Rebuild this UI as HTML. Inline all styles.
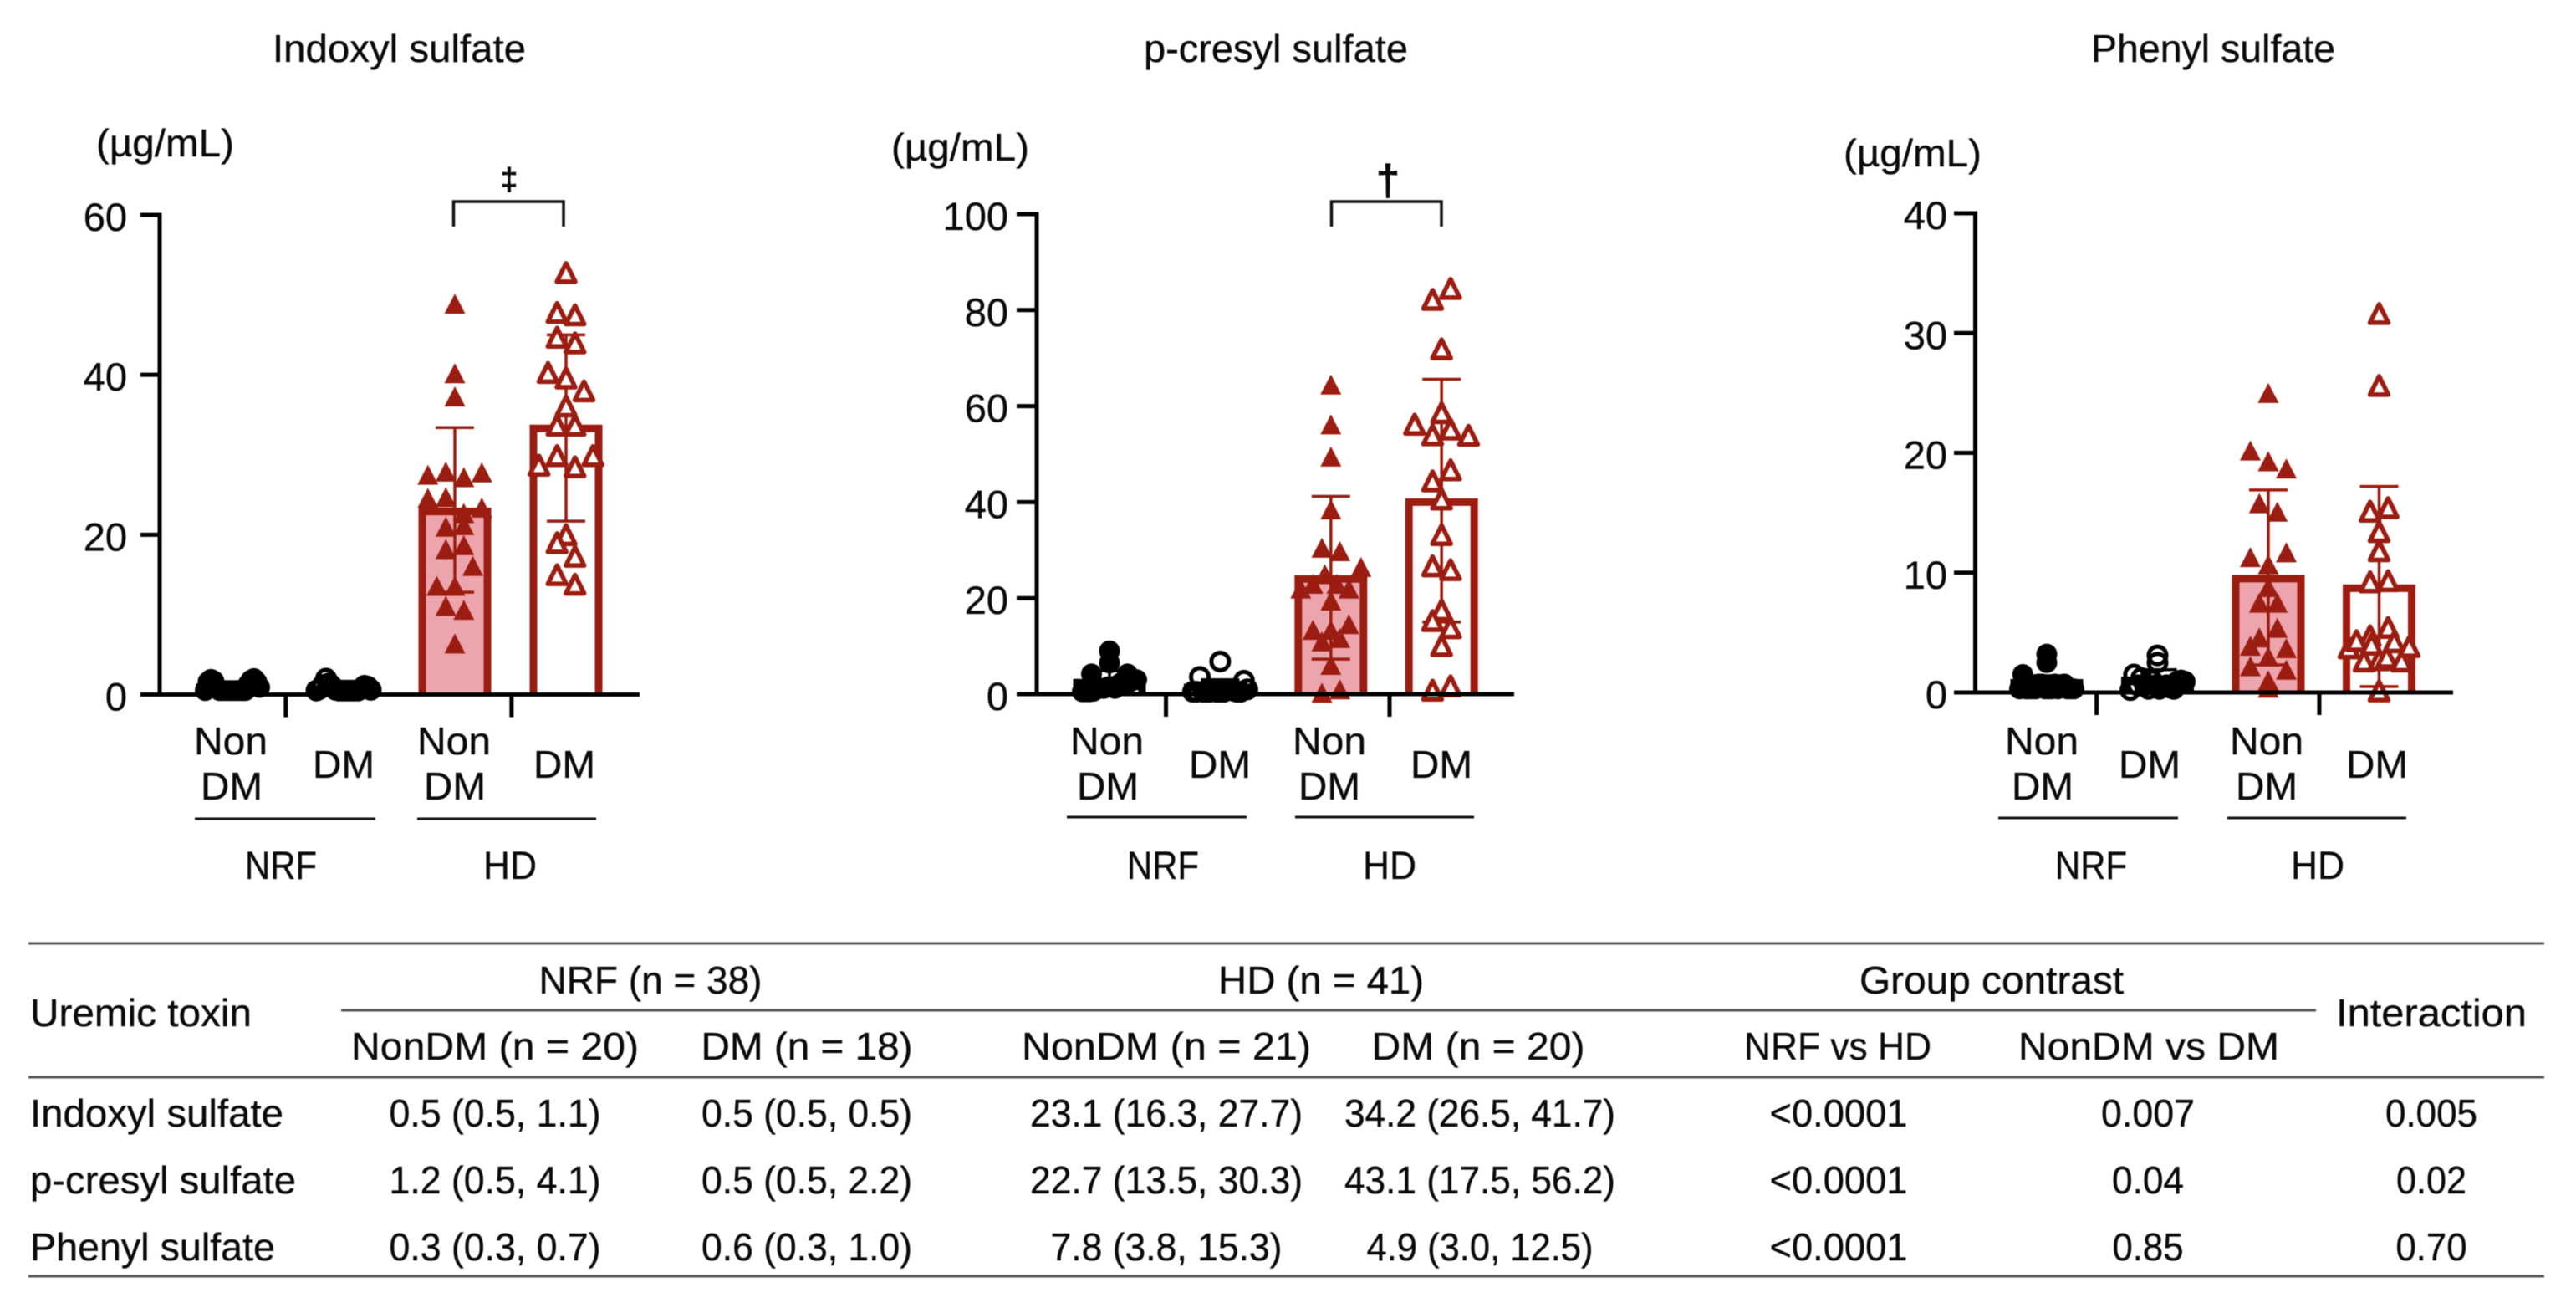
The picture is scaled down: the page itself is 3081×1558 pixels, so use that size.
<!DOCTYPE html>
<html lang="en">
<head>
<meta charset="utf-8">
<title>Uremic toxin levels in NRF and HD patients</title>
<style>
  html, body { margin: 0; padding: 0; background: #fff; width: 3081px; height: 1558px; overflow: hidden; }
  svg { display: block; filter: blur(0.6px); }
  text { font-family: "Liberation Sans", "DejaVu Sans", sans-serif; font-size: 46px; fill: #0a0a0a; stroke: #0a0a0a; stroke-width: 0.35px; }
  .c { text-anchor: middle; }
</style>
</head>
<body>
<svg id="figure" xmlns="http://www.w3.org/2000/svg" width="3081" height="1558" viewBox="0 0 3081 1558">
  <rect x="0" y="0" width="3081" height="1558" fill="#fff"/>

  <g id="chart-indoxyl">
    <text x="326" y="74" textLength="303" lengthAdjust="spacingAndGlyphs">Indoxyl sulfate</text>
    <text x="115" y="187" textLength="165" lengthAdjust="spacingAndGlyphs">(µg/mL)</text>
    <text class="c" x="276" y="902" textLength="88" lengthAdjust="spacingAndGlyphs">Non</text>
    <text class="c" x="277" y="956" textLength="74" lengthAdjust="spacingAndGlyphs">DM</text>
    <text class="c" x="411" y="930" textLength="74" lengthAdjust="spacingAndGlyphs">DM</text>
    <text class="c" x="543" y="902" textLength="88" lengthAdjust="spacingAndGlyphs">Non</text>
    <text class="c" x="544" y="956" textLength="74" lengthAdjust="spacingAndGlyphs">DM</text>
    <text class="c" x="675" y="930" textLength="74" lengthAdjust="spacingAndGlyphs">DM</text>
    <line x1="233" x2="449" y1="979" y2="979" stroke="#111" stroke-width="3"/>
    <line x1="499" x2="713" y1="979" y2="979" stroke="#111" stroke-width="3"/>
    <text class="c" x="336" y="1051" textLength="86" lengthAdjust="spacingAndGlyphs" style="font-size:47px">NRF</text>
    <text class="c" x="610" y="1051" textLength="64" lengthAdjust="spacingAndGlyphs" style="font-size:47px">HD</text>
    <path d="M542.500 271V241H674V271" fill="none" stroke="#111" stroke-width="3.500"/>
    <text class="c" x="609" y="227" style="font-size:38px;font-weight:bold">‡</text>
  </g>

  <g id="chart-cresyl">
    <text x="1368" y="74" textLength="316" lengthAdjust="spacingAndGlyphs">p-cresyl sulfate</text>
    <text x="1066" y="192" textLength="165" lengthAdjust="spacingAndGlyphs">(µg/mL)</text>
    <text class="c" x="1324" y="902" textLength="88" lengthAdjust="spacingAndGlyphs">Non</text>
    <text class="c" x="1325" y="956" textLength="74" lengthAdjust="spacingAndGlyphs">DM</text>
    <text class="c" x="1459" y="930" textLength="74" lengthAdjust="spacingAndGlyphs">DM</text>
    <text class="c" x="1590" y="902" textLength="88" lengthAdjust="spacingAndGlyphs">Non</text>
    <text class="c" x="1590" y="956" textLength="74" lengthAdjust="spacingAndGlyphs">DM</text>
    <text class="c" x="1724" y="930" textLength="74" lengthAdjust="spacingAndGlyphs">DM</text>
    <line x1="1276" x2="1491" y1="977" y2="977" stroke="#111" stroke-width="3"/>
    <line x1="1549" x2="1763" y1="977" y2="977" stroke="#111" stroke-width="3"/>
    <text class="c" x="1391" y="1051" textLength="86" lengthAdjust="spacingAndGlyphs" style="font-size:47px">NRF</text>
    <text class="c" x="1662" y="1051" textLength="64" lengthAdjust="spacingAndGlyphs" style="font-size:47px">HD</text>
    <path d="M1592.500 271V241H1724V271" fill="none" stroke="#111" stroke-width="3.500"/>
    <text class="c" x="1660" y="233" style="font-size:52px;font-weight:bold">†</text>
  </g>

  <g id="chart-phenyl">
    <text x="2501" y="74" textLength="292" lengthAdjust="spacingAndGlyphs">Phenyl sulfate</text>
    <text x="2205" y="199" textLength="165" lengthAdjust="spacingAndGlyphs">(µg/mL)</text>
    <text class="c" x="2442" y="902" textLength="88" lengthAdjust="spacingAndGlyphs">Non</text>
    <text class="c" x="2443" y="956" textLength="74" lengthAdjust="spacingAndGlyphs">DM</text>
    <text class="c" x="2571" y="930" textLength="74" lengthAdjust="spacingAndGlyphs">DM</text>
    <text class="c" x="2711" y="902" textLength="88" lengthAdjust="spacingAndGlyphs">Non</text>
    <text class="c" x="2711" y="956" textLength="74" lengthAdjust="spacingAndGlyphs">DM</text>
    <text class="c" x="2843" y="930" textLength="74" lengthAdjust="spacingAndGlyphs">DM</text>
    <line x1="2390" x2="2605" y1="978" y2="978" stroke="#111" stroke-width="3"/>
    <line x1="2664" x2="2878" y1="978" y2="978" stroke="#111" stroke-width="3"/>
    <text class="c" x="2501" y="1051" textLength="86" lengthAdjust="spacingAndGlyphs" style="font-size:47px">NRF</text>
    <text class="c" x="2772" y="1051" textLength="64" lengthAdjust="spacingAndGlyphs" style="font-size:47px">HD</text>
  </g>

  <g id="results-table">
    <line x1="34" x2="3043" y1="1128" y2="1128" stroke="#555" stroke-width="3"/>
    <line x1="408" x2="2770" y1="1208" y2="1208" stroke="#555" stroke-width="3"/>
    <line x1="34" x2="3043" y1="1288" y2="1288" stroke="#555" stroke-width="3"/>
    <line x1="34" x2="3043" y1="1526" y2="1526" stroke="#555" stroke-width="3"/>

    <text x="36" y="1227" textLength="265" lengthAdjust="spacingAndGlyphs">Uremic toxin</text>
    <text class="c" x="778" y="1188" textLength="267" lengthAdjust="spacingAndGlyphs">NRF (n = 38)</text>
    <text class="c" x="1580" y="1188" textLength="246" lengthAdjust="spacingAndGlyphs">HD (n = 41)</text>
    <text class="c" x="2382" y="1188" textLength="316" lengthAdjust="spacingAndGlyphs">Group contrast</text>
    <text class="c" x="2908" y="1227" textLength="228" lengthAdjust="spacingAndGlyphs">Interaction</text>
    <text class="c" x="592" y="1267" textLength="344" lengthAdjust="spacingAndGlyphs">NonDM (n = 20)</text>
    <text class="c" x="965" y="1267" textLength="253" lengthAdjust="spacingAndGlyphs">DM (n = 18)</text>
    <text class="c" x="1395" y="1267" textLength="346" lengthAdjust="spacingAndGlyphs">NonDM (n = 21)</text>
    <text class="c" x="1768" y="1267" textLength="255" lengthAdjust="spacingAndGlyphs">DM (n = 20)</text>
    <text class="c" x="2198" y="1267" textLength="224" lengthAdjust="spacingAndGlyphs">NRF vs HD</text>
    <text class="c" x="2570" y="1267" textLength="312" lengthAdjust="spacingAndGlyphs">NonDM vs DM</text>

    <text x="36" y="1347" textLength="303" lengthAdjust="spacingAndGlyphs">Indoxyl sulfate</text>
    <text class="c" x="592" y="1347" textLength="253" lengthAdjust="spacingAndGlyphs">0.5 (0.5, 1.1)</text>
    <text class="c" x="965" y="1347" textLength="252" lengthAdjust="spacingAndGlyphs">0.5 (0.5, 0.5)</text>
    <text class="c" x="1395" y="1347" textLength="326" lengthAdjust="spacingAndGlyphs">23.1 (16.3, 27.7)</text>
    <text class="c" x="1770" y="1347" textLength="324" lengthAdjust="spacingAndGlyphs">34.2 (26.5, 41.7)</text>
    <text class="c" x="2199" y="1347" textLength="165" lengthAdjust="spacingAndGlyphs">&lt;0.0001</text>
    <text class="c" x="2569" y="1347" textLength="112" lengthAdjust="spacingAndGlyphs">0.007</text>
    <text class="c" x="2908" y="1347" textLength="110" lengthAdjust="spacingAndGlyphs">0.005</text>

    <text x="36" y="1427" textLength="318" lengthAdjust="spacingAndGlyphs">p-cresyl sulfate</text>
    <text class="c" x="592" y="1427" textLength="253" lengthAdjust="spacingAndGlyphs">1.2 (0.5, 4.1)</text>
    <text class="c" x="965" y="1427" textLength="252" lengthAdjust="spacingAndGlyphs">0.5 (0.5, 2.2)</text>
    <text class="c" x="1395" y="1427" textLength="326" lengthAdjust="spacingAndGlyphs">22.7 (13.5, 30.3)</text>
    <text class="c" x="1770" y="1427" textLength="324" lengthAdjust="spacingAndGlyphs">43.1 (17.5, 56.2)</text>
    <text class="c" x="2199" y="1427" textLength="165" lengthAdjust="spacingAndGlyphs">&lt;0.0001</text>
    <text class="c" x="2569" y="1427" textLength="86" lengthAdjust="spacingAndGlyphs">0.04</text>
    <text class="c" x="2908" y="1427" textLength="84" lengthAdjust="spacingAndGlyphs">0.02</text>

    <text x="36" y="1507" textLength="293" lengthAdjust="spacingAndGlyphs">Phenyl sulfate</text>
    <text class="c" x="592" y="1507" textLength="253" lengthAdjust="spacingAndGlyphs">0.3 (0.3, 0.7)</text>
    <text class="c" x="965" y="1507" textLength="252" lengthAdjust="spacingAndGlyphs">0.6 (0.3, 1.0)</text>
    <text class="c" x="1395" y="1507" textLength="277" lengthAdjust="spacingAndGlyphs">7.8 (3.8, 15.3)</text>
    <text class="c" x="1770" y="1507" textLength="271" lengthAdjust="spacingAndGlyphs">4.9 (3.0, 12.5)</text>
    <text class="c" x="2199" y="1507" textLength="165" lengthAdjust="spacingAndGlyphs">&lt;0.0001</text>
    <text class="c" x="2569" y="1507" textLength="85" lengthAdjust="spacingAndGlyphs">0.85</text>
    <text class="c" x="2908" y="1507" textLength="85" lengthAdjust="spacingAndGlyphs">0.70</text>
  </g>
</svg>

<script>
/* ---------- chart data (µg/mL) ---------- */
const categories = ['nrf-nondm', 'nrf-dm', 'hd-nondm', 'hd-dm'];

const indoxylTicks = [0, 20, 40, 60];
const indoxylMeans = [0.9, 0.7, 22.9, 33.3];
const indoxylErrLow = [0.3, 0.3, 12.8, 21.7];
const indoxylErrHigh = [1.5, 1.2, 33.4, 45.0];
const indoxylNrfNonDm = [0.5, 1.6, 1.9, 1.7, 0.9, 0.5, 0.5, 0.5, 0.5, 0.5, 0.5, 0.5, 0.5, 0.5, 0.5, 1.3, 1.8, 2.0, 1.6, 0.9];
const indoxylNrfDm = [0.5, 0.7, 1.2, 2.0, 1.4, 1.0, 0.6, 0.5, 0.5, 0.5, 0.5, 0.5, 0.5, 0.5, 0.7, 1.1, 1.0, 0.6];
const indoxylHdNonDm = [48.9, 40.2, 37.3, 27.5, 27.9, 27.2, 27.8, 24.6, 24.7, 22.7, 23.4, 21.0, 21.2, 18.2, 18.7, 13.6, 13.6, 16.1, 11.1, 10.6, 6.4];
const indoxylHdDm = [52.9, 47.9, 47.6, 44.8, 44.1, 40.4, 39.7, 38.1, 36.2, 33.8, 33.8, 28.8, 30.0, 28.6, 30.0, 20.1, 19.1, 17.4, 15.1, 13.9];

const cresylTicks = [0, 20, 40, 60, 80, 100];
const cresylMeans = [2.4, 1.4, 24.0, 40.0];
const cresylErrLow = [0.2, 0.2, 7.3, 15.0];
const cresylErrHigh = [4.9, 3.0, 41.2, 65.6];
const cresylNrfNonDm = [9.0, 4.2, 6.5, 4.2, 0.5, 0.5, 0.5, 0.6, 1.0, 1.2, 1.2, 1.5, 1.5, 1.2, 2.0, 2.5, 3.0, 2.5, 3.0, 3.0];
const cresylNrfDm = [6.8, 0.5, 0.5, 3.6, 0.5, 0.5, 0.5, 0.6, 0.5, 0.5, 0.5, 1.0, 1.0, 0.7, 0.5, 0.5, 2.8, 1.0];
const cresylHdNonDm = [64.5, 56.2, 49.5, 38.5, 30.5, 29.8, 22.0, 23.0, 25.0, 23.0, 22.0, 26.5, 19.5, 13.4, 13.4, 14.6, 11.0, 11.7, 6.1, 0.3, 1.0];
const cresylHdDm = [82.4, 84.7, 72.1, 58.8, 56.4, 54.2, 55.4, 54.1, 44.6, 46.9, 40.8, 33.4, 26.9, 26.1, 17.7, 15.5, 14.0, 10.3, 1.0, 1.9];

const phenylTicks = [0, 10, 20, 30, 40];
const phenylMeans = [0.8, 1.0, 9.5, 8.7];
const phenylErrLow = [0.2, 0.2, 2.3, 0.5];
const phenylErrHigh = [1.4, 1.9, 16.9, 17.2];
const phenylNrfNonDm = [3.2, 2.5, 0.3, 1.5, 0.3, 0.3, 0.3, 0.3, 0.7, 0.7, 0.3, 0.3, 0.3, 0.7, 0.3, 0.4, 0.7, 0.3, 0.3, 0.3];
const phenylNrfDm = [3.1, 2.5, 0.2, 1.5, 0.6, 1.2, 0.6, 0.3, 1.0, 0.6, 0.3, 0.5, 0.6, 0.4, 0.3, 0.9, 1.0, 0.9];
const phenylHdNonDm = [25.0, 20.2, 19.3, 18.7, 15.8, 15.1, 11.3, 10.7, 11.7, 8.8, 7.5, 7.5, 4.6, 5.4, 3.9, 3.0, 3.7, 2.2, 1.0, 1.9, 0.4];
const phenylHdDm = [31.7, 25.7, 15.2, 15.5, 13.5, 11.9, 9.3, 9.4, 4.8, 5.5, 3.8, 4.4, 2.7, 4.1, 2.8, 3.0, 4.3, 2.7, 3.9, 0.2];

/* ---------- drawing ---------- */
const NS = 'http://www.w3.org/2000/svg';
const RED = '#9b1c10';
const PINK = '#eda5ad';
const BLACK = '#000';

function svgEl(tag, parent, attrs) {
  const el = document.createElementNS(NS, tag);
  for (const k in attrs) el.setAttribute(k, attrs[k]);
  parent.appendChild(el);
  return el;
}

function yScale(frame, v) {
  return frame.y0 - (v / frame.max) * (frame.y0 - frame.yTop);
}
function xScale(frame, columnIndex) {
  return frame.col0 + columnIndex * frame.colStep;
}

/* Column-scatter layout: points sharing a marker-height bin spread symmetrically, in data order. */
function swarmOffsets(frame, values, isNrf) {
  const pxPerUnit = (frame.y0 - frame.yTop) / frame.max;
  const bin = (isNrf ? frame.nrfBinPx : frame.hdBinPx) / pxPerUnit;
  const anchor = isNrf ? 0 : frame.hdBinAnchor;
  const width = isNrf ? frame.nrfSwarmWidth : frame.hdSwarmWidth;
  const groups = {};
  values.forEach(function (v, i) {
    const key = Math.floor((v - anchor) / bin + 1e-6);
    (groups[key] = groups[key] || []).push(i);
  });
  const out = new Array(values.length).fill(0);
  Object.keys(groups).forEach(function (key) {
    const g = groups[key];
    const step = g.length > 1 ? Math.min(frame.slot, width / (g.length - 1)) : 0;
    g.forEach(function (idx, pos) {
      out[idx] = (pos - (g.length - 1) / 2) * step;
    });
  });
  return out;
}

function trianglePoints(cx, cy, w, h) {
  return [cx - w / 2, cy + h / 2, cx + w / 2, cy + h / 2, cx, cy - h / 2].join(' ');
}

function drawAxes(frame, g, ticks, prefix) {
  const yAxis = svgEl('line', g, { x1: frame.axisX, x2: frame.axisX, y1: frame.yTop - 2.5, y2: frame.y0, stroke: BLACK, 'stroke-width': 5 });
  
  
  const xAxis = svgEl('line', g, { x1: frame.tickLeft, x2: frame.right, y1: frame.y0, y2: frame.y0, stroke: BLACK, 'stroke-width': 5 });
  
  
  ticks.forEach(function (t) {
    const y = yScale(frame, t);
    const tick = svgEl('line', g, { x1: frame.tickLeft, x2: frame.axisX, y1: y, y2: y, stroke: BLACK, 'stroke-width': 5 });
    
    
    const label = svgEl('text', g, { x: frame.labelRight, y: y + 19, 'text-anchor': 'end', style: 'font-size:47px' });
    label.textContent = String(t);
    
    
  });
  frame.groupTicks.forEach(function (c) {
    const x = xScale(frame, c);
    const tick = svgEl('line', g, { x1: x, x2: x, y1: frame.y0, y2: frame.y0 + 27, stroke: BLACK, 'stroke-width': 5 });
    
    
  });
}

function drawColumn(frame, g, prefix, index, series) {
  const x = xScale(frame, index.col);
  const isNrf = index.col < 2;
  const color = isNrf ? BLACK : RED;
  const fill = index.col === 2 ? PINK : '#fff';
  const top = yScale(frame, series.mean);
  const bar = svgEl('path', g, { d: 'M' + (x - 39) + ' ' + frame.y0 + 'V' + top + 'H' + (x + 39) + 'V' + frame.y0, fill: fill, stroke: color, 'stroke-width': 9 });
  
  

  const yLow = yScale(frame, series.low);
  const yHigh = yScale(frame, series.high);
  const err = svgEl('path', g, {
    d: 'M' + x + ' ' + yLow + 'V' + yHigh + 'M' + (x - 23) + ' ' + yHigh + 'H' + (x + 23) + 'M' + (x - 23) + ' ' + yLow + 'H' + (x + 23),
    fill: 'none', stroke: color, 'stroke-width': 3.5
  });
  
  

  const offsets = swarmOffsets(frame, series.values, isNrf);
  series.values.forEach(function (v, i) {
    const cx = x + offsets[i];
    const cy = yScale(frame, v);
    let mark;
    if (index.col === 0) {
      mark = svgEl('circle', g, { cx: cx, cy: cy, r: 12.5, fill: BLACK });
    } else if (index.col === 1) {
      mark = svgEl('circle', g, { cx: cx, cy: cy, r: 10.5, fill: 'none', stroke: BLACK, 'stroke-width': 5 });
    } else if (index.col === 2) {
      mark = svgEl('polygon', g, { points: trianglePoints(cx, cy, 25, 24), fill: RED });
    } else {
      mark = svgEl('polygon', g, { points: trianglePoints(cx, cy + 1, 22, 22), fill: '#fff', stroke: RED, 'stroke-width': 5.5, 'stroke-linejoin': 'round' });
    }
    
    
  });
}

function drawPanel(groupId, prefix, frame, ticks, means, low, high, seriesList) {
  const parent = document.getElementById(groupId);
  const g = svgEl('g', parent, {});
  
  
  seriesList.forEach(function (values, c) {
    drawColumn(frame, g, prefix, { col: c }, { mean: means[c], low: low[c], high: high[c], values: values });
  });
  drawAxes(frame, g, ticks, prefix);
}

const shared = { hdBinPx: 28.65, slot: 21.5, hdSwarmWidth: 72, nrfSwarmWidth: 65 };

drawPanel('chart-indoxyl', 'indoxyl',
  Object.assign({ axisX: 191, y0: 830.5, yTop: 257, max: 60, tickLeft: 168, right: 765, col0: 278, colStep: 133, labelRight: 152, groupTicks: [0.48, 2.51], hdBinAnchor: 1.5, nrfBinPx: 30 }, shared),
  indoxylTicks, indoxylMeans, indoxylErrLow, indoxylErrHigh,
  [indoxylNrfNonDm, indoxylNrfDm, indoxylHdNonDm, indoxylHdDm]);

drawPanel('chart-cresyl', 'cresyl',
  Object.assign({ axisX: 1240, y0: 830, yTop: 256, max: 100, tickLeft: 1216, right: 1811, col0: 1327, colStep: 132.4, labelRight: 1206, groupTicks: [0.51, 2.53], hdBinAnchor: 2, nrfBinPx: 22.4 }, shared),
  cresylTicks, cresylMeans, cresylErrLow, cresylErrHigh,
  [cresylNrfNonDm, cresylNrfDm, cresylHdNonDm, cresylHdDm]);

drawPanel('chart-phenyl', 'phenyl',
  Object.assign({ axisX: 2362.5, y0: 828, yTop: 255, max: 40, tickLeft: 2337, right: 2934, col0: 2448, colStep: 132.5, labelRight: 2329, groupTicks: [0.45, 2.46], hdBinAnchor: 0.5, nrfBinPx: 22 }, shared),
  phenylTicks, phenylMeans, phenylErrLow, phenylErrHigh,
  [phenylNrfNonDm, phenylNrfDm, phenylHdNonDm, phenylHdDm]);
</script>
</body>
</html>
